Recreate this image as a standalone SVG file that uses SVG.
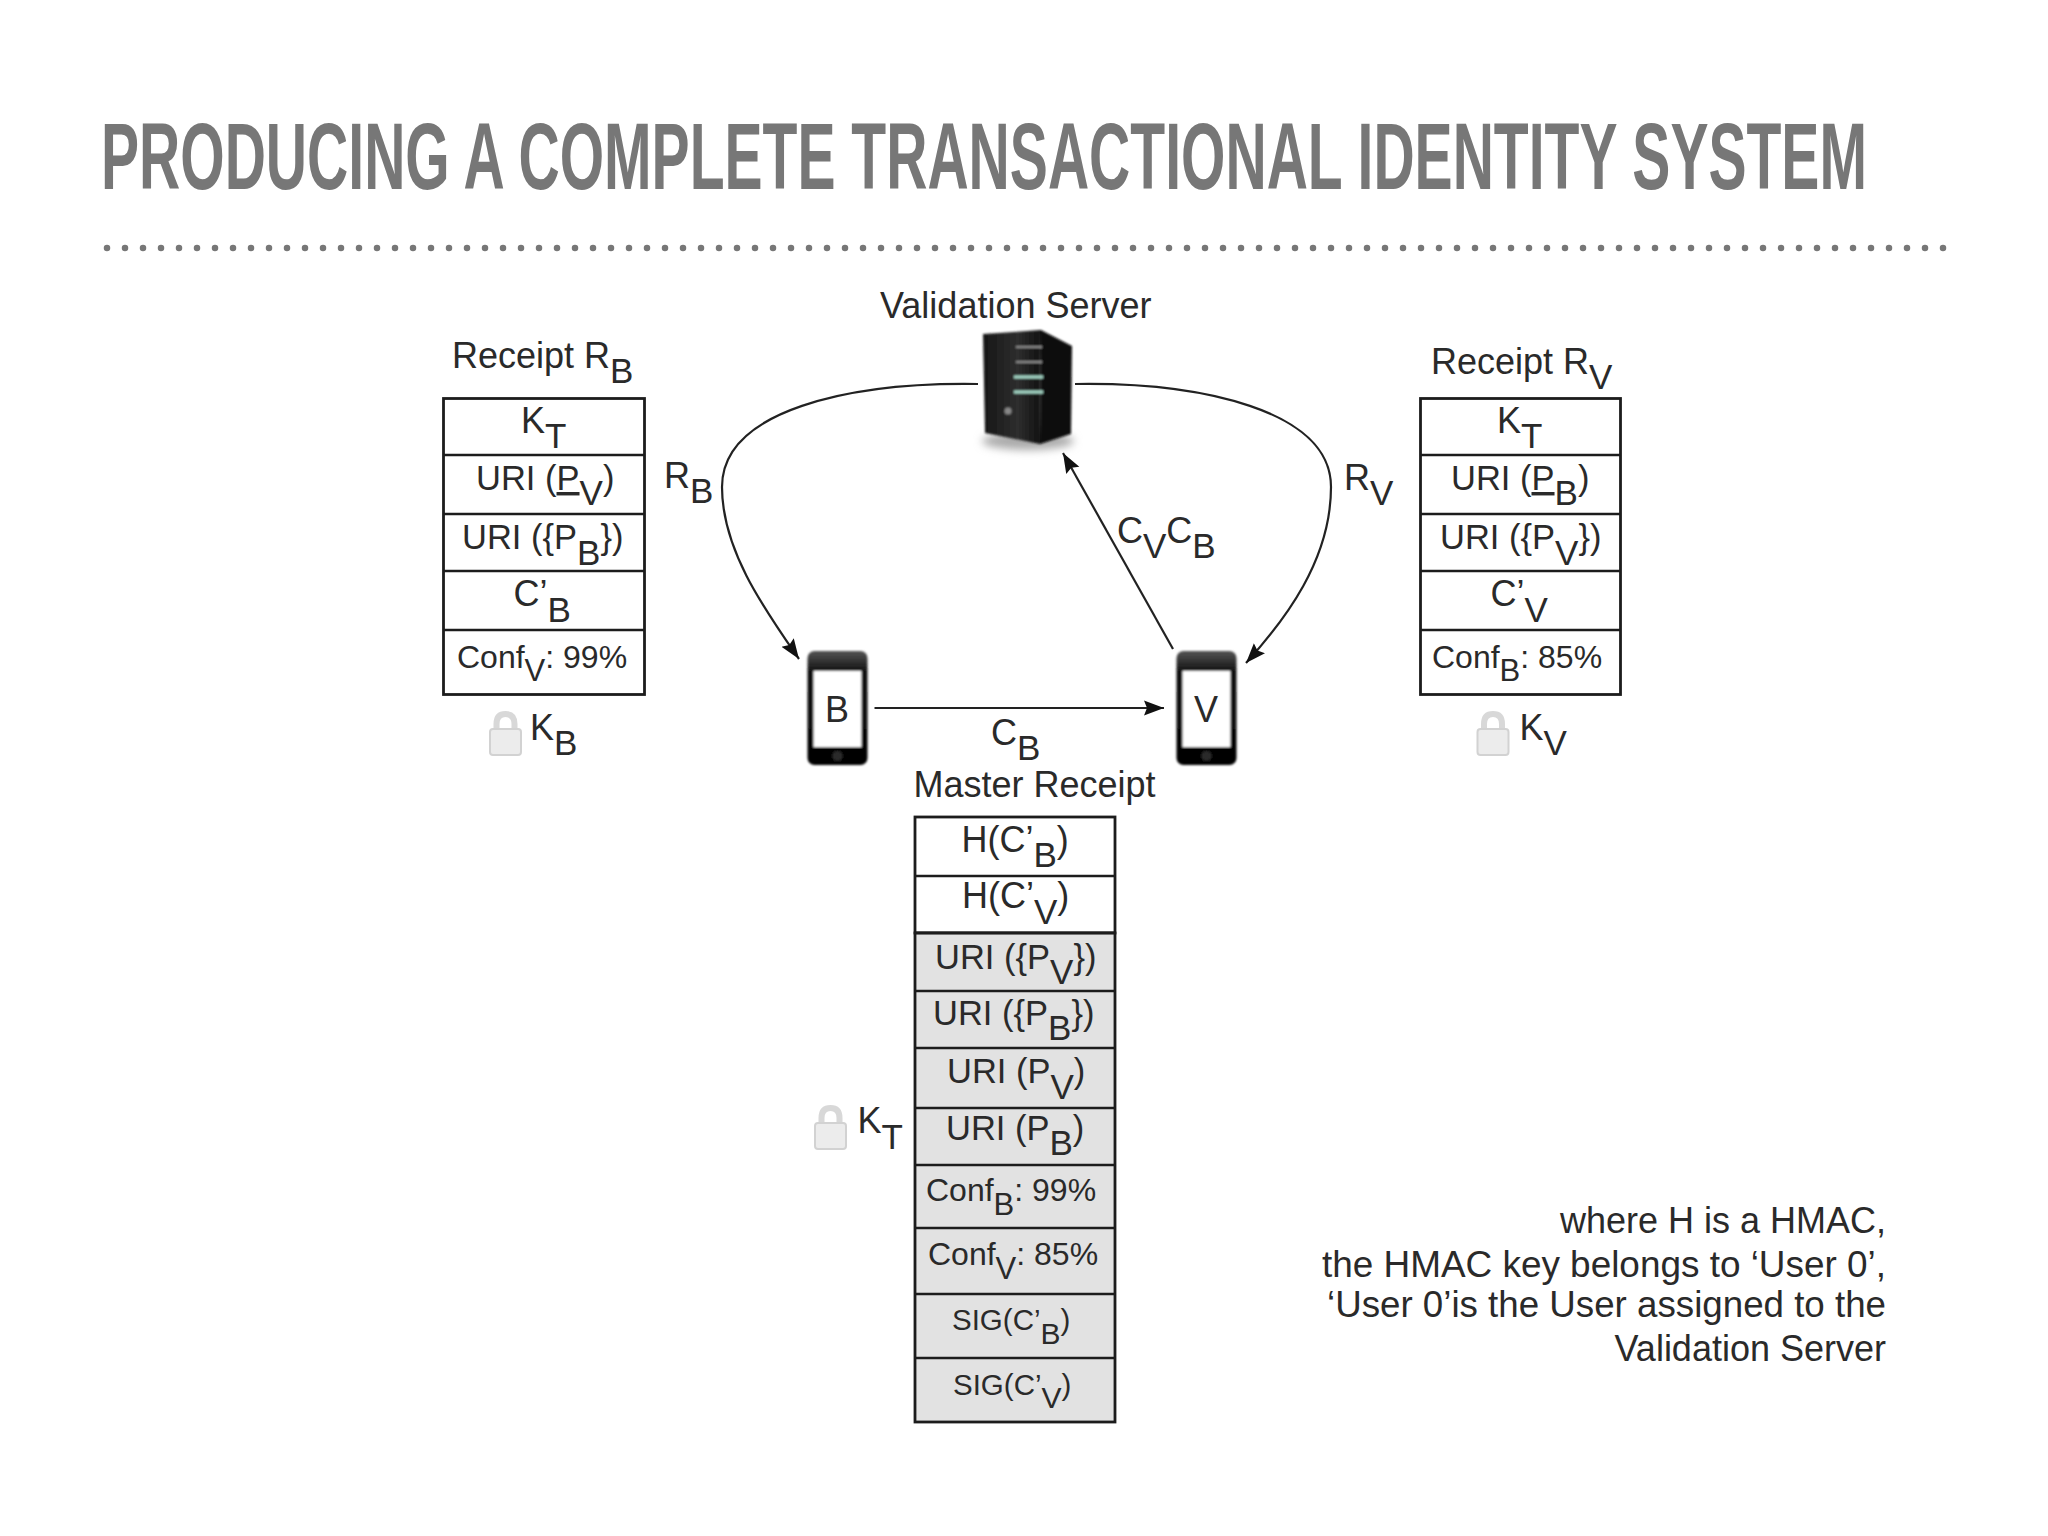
<svg xmlns="http://www.w3.org/2000/svg" xmlns:xlink="http://www.w3.org/1999/xlink" width="2048" height="1536" viewBox="0 0 2048 1536">
<style>
text{font-family:"Liberation Sans",Arial,sans-serif;fill:#2a2a2a;font-size:36px}
.title{font-weight:700;font-size:95px;fill:#777}
.u{font-size:34.500px}
.c{font-size:32px}
.g{font-size:29.500px}
.s{font-size:35px}
.ss{font-size:31px}
.sg{font-size:30px}
.box{fill:#fff;stroke:#1c1c1c;stroke-width:2.800}
.shade{fill:#e2e2e2;stroke:#1c1c1c;stroke-width:2.800}
.div{stroke:#1c1c1c;stroke-width:2.400;fill:none}
.conn{stroke:#222;stroke-width:2.200;fill:none;marker-end:url(#ah)}
.note{text-anchor:end}
</style>
<defs>
<marker id="ah" markerUnits="userSpaceOnUse" markerWidth="22" markerHeight="18" refX="20" refY="9" orient="auto">
<path d="M0 1.500L20 9L0 16.500L3 9Z" fill="#111"/>
</marker>
<filter id="soft" x="-20%" y="-20%" width="140%" height="140%"><feGaussianBlur stdDeviation="0.900"/></filter>
<filter id="shadow" x="-30%" y="-60%" width="160%" height="220%"><feGaussianBlur stdDeviation="4"/></filter>
<linearGradient id="front" x1="0" y1="0" x2="1" y2="0"><stop offset="0" stop-color="#161616"/><stop offset=".6" stop-color="#2e2e2e"/><stop offset="1" stop-color="#111"/></linearGradient>
<linearGradient id="gloss" x1="0" y1="0" x2="0" y2="1"><stop offset="0" stop-color="#555"/><stop offset=".18" stop-color="#111"/><stop offset="1" stop-color="#000"/></linearGradient>
<g id="lock">
<path d="M7.500 20V12C7.500 5 11 2 16.500 2S25.500 5 25.500 12V20" fill="none" stroke="#d8d8d8" stroke-width="6"/>
<rect x="1" y="17" width="31" height="26" rx="3" fill="#ececec" stroke="#d2d2d2" stroke-width="2"/>
</g>
<g id="phone" filter="url(#soft)">
<rect x="0" y="0" width="60" height="114" rx="7" fill="url(#gloss)"/>
<rect x="6" y="20" width="48" height="76" fill="#fff"/>
<circle cx="30" cy="105" r="5" fill="#2c2c2c"/>
</g>
</defs>
<rect width="2048" height="1536" fill="#fff"/>
<g id="header">
<text class="title" transform="translate(101,189) scale(0.6,1)" textLength="2943.300" lengthAdjust="spacingAndGlyphs">PRODUCING A COMPLETE TRANSACTIONAL IDENTITY SYSTEM</text>
<path d="M107 248H1948" stroke="#777" stroke-width="6.500" stroke-linecap="round" stroke-dasharray="0 18" fill="none"/>
</g>
<g id="connectors">
<path class="conn" d="M978 384C850 382 722 410 722 487C722 550 765 610 799 659"/>
<path class="conn" d="M1075 384C1200 382 1331 410 1331 487C1331 560 1285 620 1246 663"/>
<path class="conn" d="M1173 649L1063 453"/>
<path class="conn" d="M874.500 708H1164"/>
</g>
<g id="server">
<text x="880" y="318">Validation Server</text>
<ellipse cx="1028" cy="441" rx="46" ry="9" fill="#aaa" filter="url(#shadow)"/>
<g filter="url(#soft)">
<path d="M1041 330L1072 346L1071 434L1040 444Z" fill="#0b0b0b"/>
<path d="M983 334L1041 330L1040 444L985 433Z" fill="url(#front)"/>
<path d="M1016 347H1042M1016 362H1042" stroke="#8a8a8a" stroke-width="2.200"/>
<path d="M1014 377H1043M1014 392H1043" stroke="#a8dccb" stroke-width="3"/>
<circle cx="1008" cy="411" r="3.500" fill="#888"/>
</g>
</g>
<g id="phone-b">
<use href="#phone" transform="translate(807.500,651)"/>
<text x="825" y="722">B</text>
</g>
<g id="phone-v">
<use href="#phone" transform="translate(1176.500,651)"/>
<text x="1194" y="722">V</text>
</g>
<g id="labels">
<text x="664" y="488">R<tspan class="s" dy="15">B</tspan></text>
<text x="1344" y="490">R<tspan class="s" dy="15">V</tspan></text>
<text x="1117" y="543">C<tspan class="s" dy="15">V</tspan><tspan dy="-15">C</tspan><tspan class="s" dy="15">B</tspan></text>
<text x="991" y="745">C<tspan class="s" dy="15">B</tspan></text>
</g>
<g id="receipt-b">
<text x="452" y="368">Receipt R<tspan class="s" dy="15">B</tspan></text>
<rect class="box" x="443.500" y="398.500" width="201" height="296"/>
<path class="div" d="M444 455H644M444 514H644M444 571H644M444 630H644"/>
<text x="521" y="433">K<tspan class="s" dy="15">T</tspan></text>
<text class="u" x="476" y="490">URI (<tspan text-decoration="underline">P</tspan><tspan class="s" dy="15">V</tspan><tspan dy="-15">)</tspan></text>
<text class="u" x="462" y="549">URI ({P<tspan class="s" dy="16">B</tspan><tspan dy="-16">})</tspan></text>
<text x="513.500" y="606">C’<tspan class="s" dy="16">B</tspan></text>
<text class="c" x="457" y="668">Conf<tspan class="ss" dy="13">V</tspan><tspan dy="-13">: 99%</tspan></text>
<use href="#lock" transform="translate(489,712)"/>
<text x="530" y="740">K<tspan class="s" dy="15">B</tspan></text>
</g>
<g id="receipt-v">
<text x="1431" y="374">Receipt R<tspan class="s" dy="15">V</tspan></text>
<rect class="box" x="1420.500" y="398.500" width="200" height="296"/>
<path class="div" d="M1421 455H1620M1421 514H1620M1421 571H1620M1421 630H1620"/>
<text x="1497" y="433">K<tspan class="s" dy="15">T</tspan></text>
<text class="u" x="1451" y="490">URI (<tspan text-decoration="underline">P</tspan><tspan class="s" dy="15">B</tspan><tspan dy="-15">)</tspan></text>
<text class="u" x="1440" y="549">URI ({P<tspan class="s" dy="16">V</tspan><tspan dy="-16">})</tspan></text>
<text x="1490.500" y="606">C’<tspan class="s" dy="16">V</tspan></text>
<text class="c" x="1432" y="668">Conf<tspan class="ss" dy="13">B</tspan><tspan dy="-13">: 85%</tspan></text>
<use href="#lock" transform="translate(1476.500,712)"/>
<text x="1519.500" y="740">K<tspan class="s" dy="15">V</tspan></text>
</g>
<g id="master-receipt">
<text x="913.500" y="797">Master Receipt</text>
<rect class="box" x="915" y="817" width="200" height="116"/>
<rect class="shade" x="915" y="933" width="200" height="489"/>
<path class="div" d="M915 876H1115M915 933H1115M915 991H1115M915 1048H1115M915 1108H1115M915 1165H1115M915 1228H1115M915 1294H1115M915 1358H1115"/>
<text x="961.500" y="852">H(C’<tspan class="s" dy="15">B</tspan><tspan dy="-15">)</tspan></text>
<text x="962" y="908">H(C’<tspan class="s" dy="16">V</tspan><tspan dy="-16">)</tspan></text>
<text class="u" x="935" y="969">URI ({P<tspan class="s" dy="15">V</tspan><tspan dy="-15">})</tspan></text>
<text class="u" x="933" y="1025">URI ({P<tspan class="s" dy="15">B</tspan><tspan dy="-15">})</tspan></text>
<text class="u" x="947" y="1083">URI (P<tspan class="s" dy="16">V</tspan><tspan dy="-16">)</tspan></text>
<text class="u" x="946" y="1140">URI (P<tspan class="s" dy="15">B</tspan><tspan dy="-15">)</tspan></text>
<text class="c" x="926" y="1201">Conf<tspan class="ss" dy="14">B</tspan><tspan dy="-14">: 99%</tspan></text>
<text class="c" x="928" y="1265">Conf<tspan class="ss" dy="14">V</tspan><tspan dy="-14">: 85%</tspan></text>
<text class="g" x="952" y="1330">SIG(C’<tspan class="sg" dy="14">B</tspan><tspan dy="-14">)</tspan></text>
<text class="g" x="953" y="1395">SIG(C’<tspan class="sg" dy="13">V</tspan><tspan dy="-13">)</tspan></text>
<use href="#lock" transform="translate(814,1106)"/>
<text x="857.500" y="1133">K<tspan class="s" dy="16">T</tspan></text>
</g>
<g id="note">
<text class="note" x="1886" y="1233">where H is a HMAC,</text>
<text class="note" x="1886" y="1277" textLength="564" lengthAdjust="spacingAndGlyphs">the HMAC key belongs to ‘User 0’,</text>
<text class="note" x="1886" y="1317" textLength="559" lengthAdjust="spacingAndGlyphs">‘User 0’is the User assigned to the</text>
<text class="note" x="1886" y="1361">Validation Server</text>
</g>
</svg>
